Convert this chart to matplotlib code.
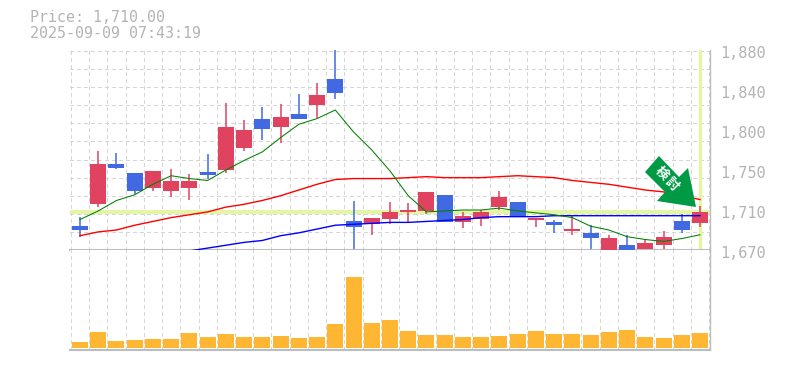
import matplotlib
matplotlib.use('Agg')
import matplotlib.pyplot as plt
from matplotlib.patches import Polygon
from matplotlib.transforms import Affine2D

W, H = 785, 370

# price data, one row per trading day
opens  = [1695, 1718, 1760, 1751, 1735, 1732, 1735, 1752, 1754, 1777, 1808, 1799, 1813, 1822, 1850,
          1700, 1697, 1703, 1710, 1711, 1728, 1699, 1703, 1715, 1720, 1702, 1699, 1690, 1688, 1670,
          1675, 1671, 1675, 1700, 1698]
highs  = [1705, 1774, 1772, 1751, 1753, 1755, 1750, 1771, 1824, 1806, 1820, 1823, 1834, 1845, 1885,
          1721, 1704, 1720, 1719, 1731, 1728, 1710, 1712, 1732, 1720, 1704, 1702, 1706, 1696, 1686,
          1686, 1682, 1690, 1708, 1716]
lows   = [1684, 1715, 1755, 1729, 1732, 1726, 1722, 1745, 1751, 1774, 1785, 1782, 1808, 1809, 1829,
          1665, 1686, 1697, 1699, 1708, 1699, 1693, 1695, 1712, 1705, 1694, 1688, 1686, 1671, 1665,
          1665, 1665, 1665, 1688, 1694]
closes = [1691, 1760, 1756, 1732, 1753, 1742, 1742, 1749, 1799, 1796, 1797, 1810, 1808, 1833, 1835,
          1694, 1704, 1710, 1712, 1731, 1699, 1706, 1710, 1726, 1705, 1704, 1696, 1692, 1683, 1683,
          1665, 1677, 1684, 1691, 1710]
ma_short = [1702, 1711, 1722, 1728, 1739, 1748, 1745, 1743, 1754, 1764, 1773, 1788, 1802, 1808, 1817,
            1794, 1775, 1753, 1727, 1710, 1711, 1712, 1712, 1714, 1711, 1709, 1707, 1704, 1695, 1691,
            1684, 1681, 1679, 1682, 1686]
ma_mid = [1685, 1689, 1691, 1696, 1700, 1704, 1707, 1710, 1715, 1718, 1722, 1727, 1733, 1739, 1744,
          1745, 1745, 1745, 1746, 1747, 1746, 1746, 1746, 1747, 1748, 1747, 1746, 1743, 1741, 1739,
          1736, 1733, 1731, 1727, 1723]
ma_long_start = 6
ma_long = [1669, 1672, 1675, 1678, 1680, 1685, 1688, 1692, 1696, 1697, 1698, 1699, 1699, 1700, 1701,
           1702, 1704, 1705, 1705, 1705, 1706, 1706, 1706, 1706, 1706, 1706, 1706, 1706, 1706]
volumes = [6, 16, 7, 8, 9, 9, 15, 11, 14, 11, 11, 12, 10, 11, 24, 71, 25, 28,
           17, 13, 13, 11, 11, 12, 14, 17, 14, 14, 13, 16, 18, 11, 10, 13, 15]
last_price = 1710
price_ticks = [1880, 1838, 1796, 1754, 1712, 1670]
price_labels = ['1,880', '1,840', '1,800', '1,750', '1,710', '1,670']
date_pos = [4, 9, 14, 19, 24, 29, 34]
date_labels = ['7/28', '8/4', '8/12', '8/19', '8/26', '9/2', '9/9']

UP = '#e0435f'
DOWN = '#4169e1'
GRID = '#d6d6d6'
EDGE = '#bdbdbd'
TEXT = '#b4b4b4'
PALE = '#e4f5a6'

plt.rcParams['font.family'] = ['DejaVu Sans Mono']

fig = plt.figure(figsize=(W / 100, H / 100), dpi=100)


def px_axes(x0, y0, x1, y1):
    return fig.add_axes([x0 / W, 1 - y1 / H, (x1 - x0) / W, (y1 - y0) / H])


ax = px_axes(70, 50, 710, 250)
ax_vol = px_axes(70, 250, 710, 350)
n = len(closes)

for a in (ax, ax_vol):
    a.set_xlim(-0.548, n - 1 + 0.548)
    a.set_xticks([i + 0.5 for i in range(-1, n)])
    a.tick_params(length=0, labelleft=False, labelbottom=False)
    a.grid(True, axis='x', color=GRID, lw=0.9, ls=(0, (2.5, 2.5)), antialiased=False)
    a.set_axisbelow(True)
    for s in a.spines.values():
        s.set_visible(False)
    a.spines['right'].set_visible(True)
    a.spines['right'].set_color(EDGE)
    a.spines['right'].set_linewidth(1)
    a.spines['bottom'].set_visible(True)
    a.spines['bottom'].set_color(EDGE)
    a.spines['bottom'].set_linewidth(1.5)

ax.set_ylim(1670, 1880)
ax.set_yticks([1670 + 19.0 * i for i in range(1, 12)])
ax.grid(True, axis='y', color=GRID, lw=0.9, ls=(0, (2.5, 2.5)), antialiased=False)

ax.axhline(last_price, color=PALE, lw=2.9, zorder=1)
ax.axvline(n - 1, color=PALE, lw=2.5, zorder=1)

for i in range(n):
    col = UP if closes[i] >= opens[i] else DOWN
    ax.vlines(i, lows[i], highs[i], color=col, lw=1.1, zorder=2)
    ax.bar(i, max(abs(closes[i] - opens[i]), 2), bottom=min(opens[i], closes[i]),
           width=0.88, color=col, zorder=3)

xs = list(range(n))
ax.plot(xs, [None] * ma_long_start + ma_long, color='#0000ff', lw=1.0, zorder=4)
ax.plot(xs, ma_mid, color='#ff0000', lw=1.0, zorder=4)
ax.plot(xs, ma_short, color='#008000', lw=0.75, zorder=4)

ax_vol.bar(xs, volumes, width=0.88, color='#ffb733', zorder=3)
ax_vol.set_ylim(-2, 98)

# right hand price scale and date labels
for p, lab in zip(price_ticks, price_labels):
    ax.annotate(lab, (1, p), xycoords=ax.get_yaxis_transform(), xytext=(10, -4),
                textcoords='offset pixels', color=TEXT, fontsize=11, ha='left', va='center',
                annotation_clip=False)
for x, lab in zip(date_pos, date_labels):
    ax.annotate(lab, (x, 0), xycoords=ax.get_xaxis_transform(), xytext=(-2, -12),
                textcoords='offset pixels', color=TEXT, fontsize=7.5, ha='center', va='center',
                annotation_clip=False)

fig.text(30 / W, 1 - 18 / H, 'Price: 1,710.00', color=TEXT, fontsize=10.8, va='center')
fig.text(30 / W, 1 - 33 / H, '2025-09-09 07:43:19', color=TEXT, fontsize=10.8, va='center')

# signal arrow, in figure pixels
to_px = Affine2D().scale(1, -1).translate(0, H)
arrow = Polygon([(659, 156), (645, 172), (665, 192), (657, 201), (696, 207), (688, 168), (679, 177)],
                closed=True, fc='#009944', ec='none', transform=to_px, zorder=6)
fig.add_artist(arrow)
fig.text(662 / W, 1 - 173 / H, '検', color='white', fontsize=9.5, rotation=-45, ha='center', va='center',
         family=['Noto Sans CJK JP'], fontweight='bold', zorder=7)
fig.text(672 / W, 1 - 184 / H, '討', color='white', fontsize=9.5, rotation=-45, ha='center', va='center',
         family=['Noto Sans CJK JP'], fontweight='bold', zorder=7)

fig.savefig('out.png', dpi=100)
